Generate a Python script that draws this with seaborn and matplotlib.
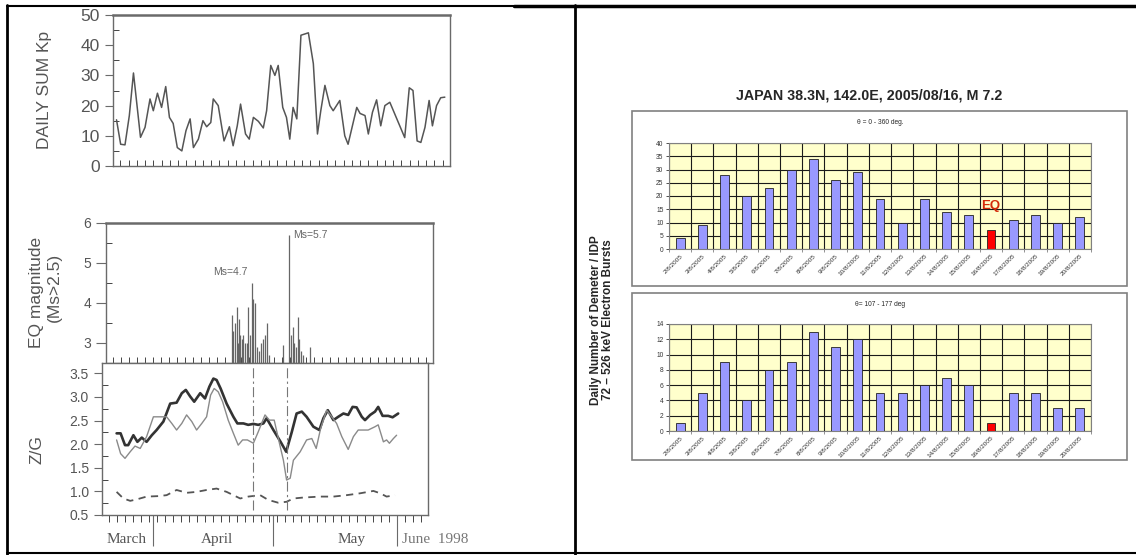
import numpy as np
import matplotlib.pyplot as plt
import seaborn as sns
from matplotlib.patches import Rectangle

W, H = 1136, 555

# ---------------- left panel data (days counted from 1 March 1998) ----------------
kp_day = [19.1, 20.1, 21.15, 22.2, 23.2, 24.9, 26.0, 27.2, 28.0, 29.0, 30.0, 31.0, 31.9,
          32.8, 33.8, 34.9, 35.9, 36.9, 37.7, 38.9, 40.0, 40.9, 41.9, 42.5, 43.7, 45.1,
          46.4, 47.3, 48.3, 49.1, 50.3, 51.2, 52.2, 53.4, 54.6, 55.4, 56.4, 57.4, 58.2,
          59.3, 60.2, 61.0, 61.8, 62.7, 63.7, 65.5, 66.7, 67.7, 68.5, 69.5, 70.7, 71.5,
          73.1, 74.3, 75.1, 77.2, 78.0, 79.2, 80.0, 81.0, 82.0, 83.0, 84.0, 85.2, 86.4,
          87.6, 88.8, 89.9, 90.8, 91.8, 92.7, 93.7, 94.7, 95.5, 96.5, 97.5, 98.5]
kp_sum = [15.3, 7.2, 7.0, 16.7, 30.8, 9.5, 12.8, 22.2, 18.3, 24.1, 19.4, 26.3, 16.1,
          14.1, 6.1, 5.0, 11.7, 15.6, 6.1, 8.9, 15.0, 13.0, 14.4, 22.2, 20.0, 8.3,
          13.0, 6.7, 13.3, 20.5, 10.6, 8.9, 16.1, 14.8, 12.6, 18.3, 33.3, 30.0, 33.3,
          19.4, 16.1, 8.9, 19.4, 15.6, 43.3, 44.1, 33.9, 10.6, 18.3, 26.7, 20.0, 18.3,
          21.7, 10.0, 7.2, 19.4, 17.4, 16.7, 10.6, 17.8, 21.9, 13.3, 20.0, 21.1, 17.2,
          13.3, 9.4, 25.9, 25.0, 8.3, 7.8, 12.8, 21.7, 13.3, 20.0, 22.6, 22.8]

eq_day = [49.58, 49.98, 50.4, 50.83, 51.08, 51.33, 51.65, 52.07, 52.47, 52.9, 53.32, 53.72,
          54.14, 54.57, 54.96, 55.39, 55.81, 56.46, 56.88, 57.46, 57.88, 58.3, 58.95, 62.29,
          63.94, 64.36, 64.79, 65.18, 65.61, 66.03, 66.36, 66.85, 67.43, 69.1]
eq_mag = [3.7, 3.3, 3.5, 3.9, 3.0, 3.6, 3.2, 3.1, 3.2, 3.0, 3.0, 3.9,
          3.2, 4.5, 4.1, 4.0, 2.9, 2.8, 3.0, 3.1, 3.2, 3.5, 2.7, 2.95,
          5.7, 3.2, 3.4, 3.0, 2.9, 3.65, 3.1, 2.8, 2.7, 2.9]

zg_day_a = [21.9, 22.9, 24.0, 24.8, 26.1, 27.1, 28.2, 29.4, 30.7, 31.9, 33.6, 35.3, 36.9,
            38.2, 39.2, 40.3, 41.3, 42.8, 44.0, 45.1, 46.1, 46.9, 47.9, 49.4, 51.1, 52.1,
            53.6, 54.8, 56.1, 57.3, 58.6, 59.4, 61.1, 62.9, 64.3, 65.7, 66.9, 68.2, 69.4,
            71.1, 72.6, 73.6, 74.7, 76.1, 77.3, 78.6, 79.8, 80.9, 81.9, 83.2, 84.0, 85.3,
            86.5, 87.3, 88.4, 89.8, 90.9, 92.3]
zg_a = [2.23, 2.23, 1.98, 1.98, 2.19, 2.05, 2.14, 2.05, 2.19, 2.30, 2.48, 2.86, 2.88,
        3.08, 3.15, 3.01, 2.90, 3.08, 2.97, 3.22, 3.39, 3.36, 3.18, 2.86, 2.58, 2.44,
        2.44, 2.41, 2.43, 2.41, 2.44, 2.55, 2.30, 2.05, 1.84, 2.26, 2.65, 2.69, 2.58,
        2.37, 2.30, 2.55, 2.72, 2.51, 2.58, 2.65, 2.62, 2.79, 2.78, 2.58, 2.51, 2.62,
        2.69, 2.79, 2.60, 2.60, 2.57, 2.65]

zg_day_b = [21.9, 22.9, 24.0, 25.3, 26.5, 27.8, 29.4, 31.1, 32.6, 34.4, 35.7, 36.9, 38.2,
            39.4, 40.7, 41.9, 43.2, 44.4, 45.4, 46.3, 47.3, 48.4, 49.8, 51.1, 52.3, 53.4,
            54.6, 56.1, 57.3, 59.0, 60.1, 61.3, 62.8, 63.6, 64.4, 65.3, 66.1, 67.8, 69.4,
            70.7, 71.8, 72.9, 74.4, 75.7, 76.9, 78.2, 79.8, 81.1, 82.3, 83.6, 84.8, 86.5,
            87.3, 88.6, 89.4, 90.1, 91.1, 91.9]
zg_b = [2.09, 1.80, 1.70, 1.84, 1.96, 1.91, 2.16, 2.58, 2.58, 2.58, 2.44, 2.30, 2.44,
        2.62, 2.48, 2.30, 2.44, 2.58, 3.04, 3.18, 3.11, 2.90, 2.51, 2.23, 1.98, 2.09,
        2.09, 2.02, 2.26, 2.62, 2.51, 2.51, 1.95, 1.66, 1.24, 1.28, 1.66, 1.84, 2.09,
        2.12, 1.91, 2.33, 2.72, 2.58, 2.44, 2.16, 1.89, 2.16, 2.30, 2.30, 2.30, 2.37,
        2.41, 2.05, 2.09, 2.02, 2.12, 2.19]

zg_day_c = [21.9, 23.6, 25.3, 26.9, 29.4, 32.3, 34.4, 36.9, 39.4, 41.9, 44.4, 46.9, 49.4,
            52.8, 54.8, 57.8, 59.8, 62.3, 64.4, 66.1, 68.6, 72.8, 76.1, 79.4, 82.8, 86.1,
            87.8, 89.4, 91.5]
zg_c = [0.99, 0.85, 0.80, 0.83, 0.89, 0.90, 0.92, 1.03, 0.97, 0.99, 1.03, 1.06, 0.99,
        0.85, 0.89, 0.92, 0.82, 0.76, 0.78, 0.85, 0.87, 0.89, 0.89, 0.92, 0.96, 1.01,
        0.96, 0.89, 0.92]

event_day = [56.1, 64.6]
month_name = ["March", "April", "May"]
month_mid = [24.5, 46.9, 80.7]
month_start = [31, 61, 92]

# ---------------- right panel data ----------------
dates = ["2/8/2005", "3/8/2005", "4/8/2005", "5/8/2005", "6/8/2005", "7/8/2005",
         "8/8/2005", "9/8/2005", "10/8/2005", "11/8/2005", "12/8/2005", "13/8/2005",
         "14/8/2005", "15/8/2005", "16/8/2005", "17/8/2005", "18/8/2005", "19/8/2005",
         "20/8/2005"]
bursts_all = [4, 9, 28, 20, 23, 30, 34, 26, 29, 19, 10, 19, 14, 13, 7, 11, 13, 10, 12]
bursts_sel = [1, 5, 9, 4, 8, 9, 13, 11, 12, 5, 5, 6, 7, 6, 1, 5, 5, 3, 3]
eq_date = "16/8/2005"

sns.set_style("ticks")
plt.rcParams["font.family"] = ["Liberation Sans", "DejaVu Sans"]

fig = plt.figure(figsize=(W / 100, H / 100), dpi=100)

# pixel canvas for frame lines and free text
bg = fig.add_axes([0, 0, 1, 1])
bg.set_xlim(0, W)
bg.set_ylim(H, 0)
bg.axis("off")


def box(x0, y0, x1, y1):
    return [x0 / W, 1 - y1 / H, (x1 - x0) / W, (y1 - y0) / H]


bg.plot([7, 514], [6, 6], color="black", lw=1.5)
bg.plot([514, W], [5.5, 5.5], color="black", lw=2.5)
bg.plot([7, 7], [5, H], color="black", lw=2)
bg.plot([575, 575], [5, H], color="black", lw=2)
bg.plot([7, W], [553, 553], color="black", lw=1.5)

ink = "#555555"
spine_c = "#6a6a6a"
xmin, xmax = 18.25, 99.75
minor_days = np.arange(20, 99, 2)


def scan_style(ax):
    for s in ax.spines.values():
        s.set_color(spine_c)
        s.set_linewidth(1.0)
    ax.tick_params(colors=spine_c, labelcolor=ink)


# ---- DAILY SUM Kp ----
ax_kp = fig.add_axes(box(113, 15, 450, 166))
sns.lineplot(x=kp_day, y=kp_sum, ax=ax_kp, color="#555555", lw=1.1)
ax_kp.set(xlim=(xmin, xmax), ylim=(0, 50), xlabel="", ylabel="")
ax_kp.set_yticks(range(0, 51, 10))
ax_kp.set_yticks(range(5, 50, 10), minor=True)
ax_kp.set_xticks([])
ax_kp.set_xticks(minor_days, minor=True)
scan_style(ax_kp)
ax_kp.spines["top"].set_linewidth(1.8)
ax_kp.tick_params(axis="y", which="major", direction="out", length=6, labelsize=12.5)
ax_kp.tick_params(axis="y", which="minor", direction="in", length=4)
ax_kp.tick_params(axis="x", which="minor", direction="in", length=4)
bg.text(45, 90, "DAILY SUM Kp", rotation=90, ha="center", va="center",
        fontsize=12.5, color=ink)

# ---- EQ magnitude ----
ax_eq = fig.add_axes(box(106, 223, 433, 363))
ax_eq.vlines(eq_day, 2.5, eq_mag, color="#666666", lw=0.9)
ax_eq.set(xlim=(xmin, xmax), ylim=(2.5, 6))
ax_eq.set_yticks([3, 4, 5, 6])
ax_eq.set_yticks([3.5, 4.5, 5.5], minor=True)
ax_eq.set_xticks([])
ax_eq.set_xticks(minor_days, minor=True)
scan_style(ax_eq)
ax_eq.spines["top"].set_linewidth(1.8)
ax_eq.tick_params(axis="y", which="major", direction="out", length=7, labelsize=10)
ax_eq.tick_params(axis="y", which="minor", direction="in", length=4)
ax_eq.tick_params(axis="x", which="minor", direction="in", length=4)
ax_eq.text(44.9, 4.78, "Ms=4.7", fontsize=7.5, color="#666666", va="center")
ax_eq.text(64.9, 5.7, "Ms=5.7", fontsize=7.5, color="#666666", va="center")
bg.text(37, 292, "EQ magnitude", rotation=90, ha="center", va="center",
        fontsize=12.5, color=ink)
bg.text(54, 287, "(Ms>2.5)", rotation=90, ha="center", va="center",
        fontsize=12.5, color=ink)

# ---- Z/G ----
ax_zg = fig.add_axes(box(102, 363, 428, 515))
sns.lineplot(x=zg_day_a, y=zg_a, ax=ax_zg, color="#333333", lw=1.9)
sns.lineplot(x=zg_day_b, y=zg_b, ax=ax_zg, color="#8a8a8a", lw=1.0)
sns.lineplot(x=zg_day_c, y=zg_c, ax=ax_zg, color="#555555", lw=1.3,
             linestyle=(0, (4, 3)))
ax_zg.vlines(event_day, 0.6, 3.68, colors="#777777", lw=0.8,
             linestyles=[(0, (9, 3, 2, 3))])
ax_zg.set(xlim=(xmin, xmax), ylim=(0.5, 3.72), xlabel="", ylabel="")
ax_zg.set_yticks(np.arange(0.5, 3.51, 0.5))
ax_zg.set_yticks(np.arange(0.75, 3.5, 0.5), minor=True)
ax_zg.set_xticks(month_start)
ax_zg.set_xticklabels([])
ax_zg.set_xticks(minor_days, minor=True)
scan_style(ax_zg)
ax_zg.tick_params(axis="y", which="major", direction="out", length=6, labelsize=10)
ax_zg.tick_params(axis="y", which="minor", direction="in", length=4)
ax_zg.tick_params(axis="x", which="major", direction="out", length=22, width=0.8)
ax_zg.tick_params(axis="x", which="minor", direction="out", length=5)
for name, d in zip(month_name, month_mid):
    ax_zg.text(d, -0.16, name, transform=ax_zg.get_xaxis_transform(), ha="center",
               va="center", fontsize=11, color=ink, family="Liberation Serif")
ax_zg.text(93.2, -0.16, "June  1998", transform=ax_zg.get_xaxis_transform(),
           ha="left", va="center", fontsize=11, color="#777777",
           family="Liberation Serif")
bg.text(37, 450, "Z/G", rotation=90, ha="center", va="center", fontsize=12.5,
        color=ink)

# ---------------- right panel ----------------
bg.text(869, 95, "JAPAN 38.3N, 142.0E, 2005/08/16, M 7.2", ha="center",
        va="center", fontsize=10.3, fontweight="bold")
bg.add_patch(Rectangle((632, 111), 495, 175, fill=False, ec="#808080", lw=1.2))
bg.add_patch(Rectangle((632, 293), 495, 167, fill=False, ec="#808080", lw=1.2))
bg.text(880, 122, "θ = 0 - 360 deg.", ha="center", va="center", fontsize=4.8)
bg.text(880, 304, "θ= 107 - 177 deg", ha="center", va="center", fontsize=4.8)
bg.text(602, 320, "Daily Number of Demeter / IDP\n72 – 526 keV Electron Bursts",
        rotation=90, ha="center", va="center", fontsize=8.5, fontweight="bold",
        multialignment="center", linespacing=1.1)

bar_colors = {d: ("#FF0000" if d == eq_date else "#9999FF") for d in dates}


def excel_bars(rect, values, ymax, step):
    ax = fig.add_axes(rect)
    sns.barplot(x=dates, y=values, hue=dates, palette=bar_colors, legend=False,
                width=0.4, saturation=1, edgecolor="#222222", linewidth=0.6, ax=ax)
    ax.set_facecolor("#FFFFCC")
    ax.set(xlim=(-0.5, len(dates) - 0.5), ylim=(0, ymax), xlabel="", ylabel="")
    ax.set_yticks(np.arange(0, ymax + 0.1, step))
    ax.set_xticks(range(len(dates)))
    ax.set_xticklabels(dates, rotation=45, ha="right", rotation_mode="anchor",
                       fontsize=4.6)
    ax.set_xticks(np.arange(-0.5, len(dates), 1), minor=True)
    ax.grid(axis="y", which="major", color="#1a1a1a", lw=0.8)
    ax.grid(axis="x", which="minor", color="#1a1a1a", lw=0.8)
    ax.set_axisbelow(True)
    ax.tick_params(axis="y", labelsize=4.8, length=2, width=0.6, pad=2,
                   colors="#333333")
    ax.tick_params(axis="x", which="major", length=0, pad=3, colors="#333333")
    ax.tick_params(axis="x", which="minor", length=2.5, width=0.6, colors="#808080")
    for s in ax.spines.values():
        s.set_color("#808080")
        s.set_linewidth(0.8)
    return ax


ax_b1 = excel_bars(box(669, 143, 1091, 249), bursts_all, 40, 5)
ax_b1.text(dates.index(eq_date), 14, "EQ", color="#D42A0A", fontsize=9.5,
           fontweight="bold", ha="center", va="bottom")
ax_b2 = excel_bars(box(669, 324, 1091, 431), bursts_sel, 14, 2)

fig.savefig("out.png", dpi=100)
